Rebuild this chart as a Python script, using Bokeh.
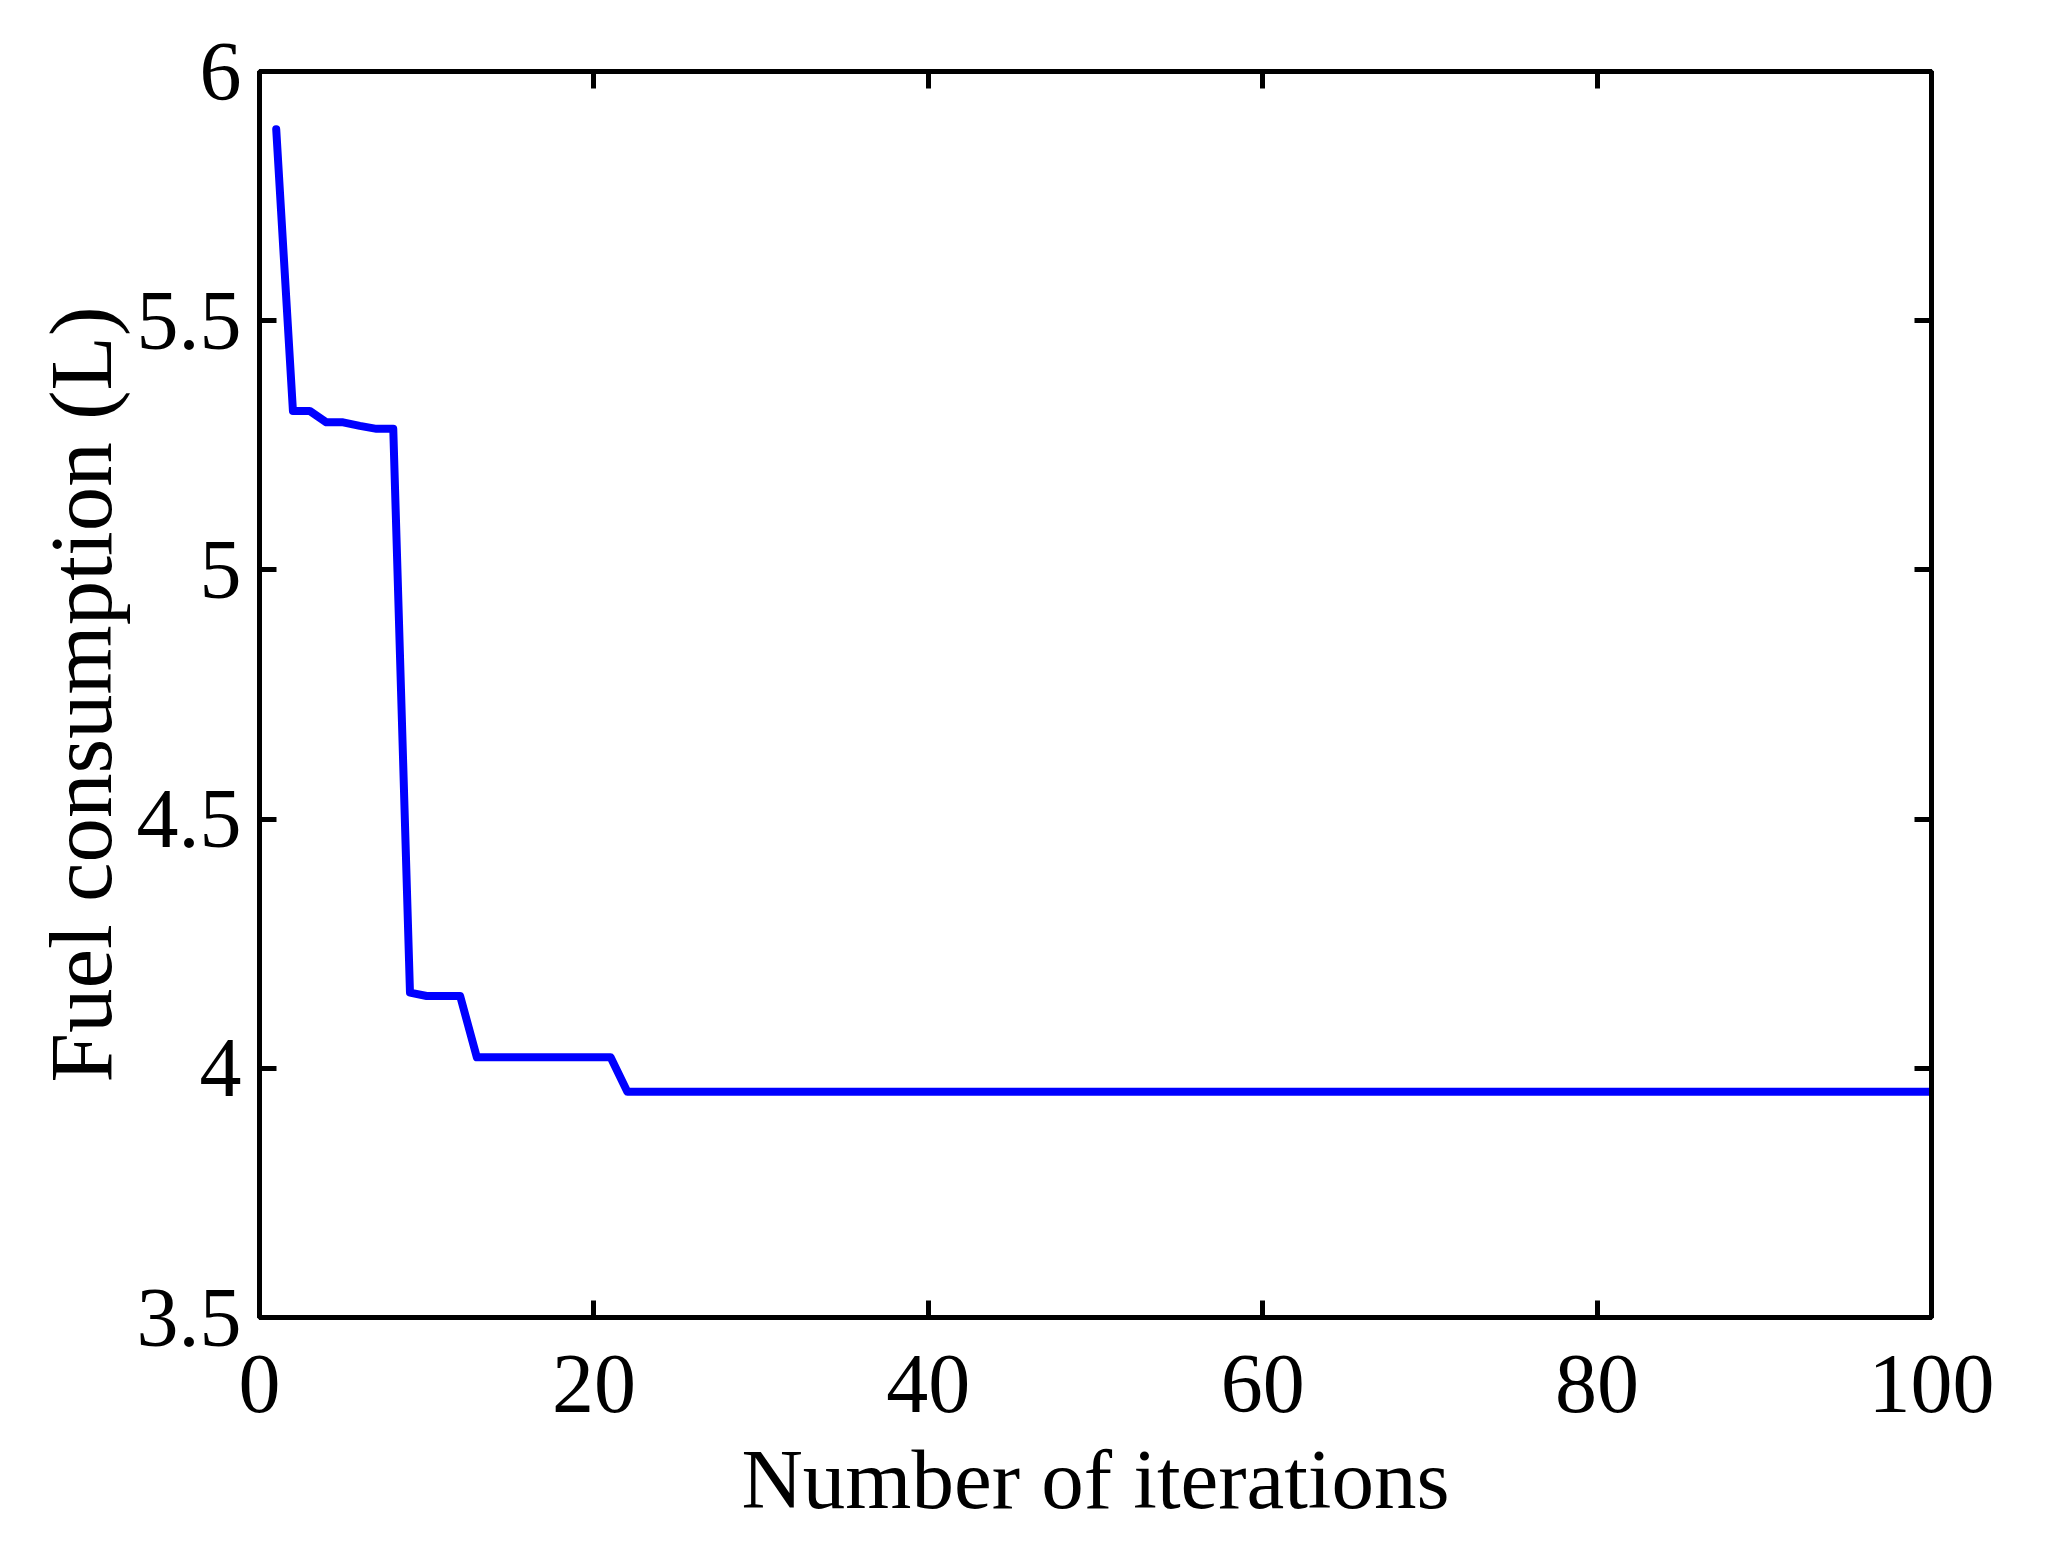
from bokeh.plotting import figure
from bokeh.models import LinearAxis, FixedTicker, Range1d, CustomJSTickFormatter
from bokeh.embed import file_html
from bokeh.resources import INLINE

# Data (breakpoints of the convergence curve)
iterations = [1, 2, 3, 4, 5, 6, 7, 8, 9, 10, 12, 13, 21, 22, 100]
fuel = [5.884, 5.319, 5.319, 5.296, 5.296, 5.289, 5.283, 5.283,
        4.152, 4.145, 4.145, 4.022, 4.022, 3.953, 3.953]

x_ticks = [0, 20, 40, 60, 80, 100]
y_ticks = [3.5, 4, 4.5, 5, 5.5, 6]
y_tick_labels = ["3.5", "4", "4.5", "5", "5.5", "6"]
x_tick_labels = ["0", "20", "40", "60", "80", "100"]

FONT = "Liberation Serif"

p = figure(
    frame_width=1672, frame_height=1246,
    x_range=Range1d(0, 100), y_range=Range1d(3.5, 6),
    output_backend="svg", toolbar_location=None,
    min_border_left=259, min_border_right=100,
    min_border_top=71, min_border_bottom=215,
    x_axis_label="Number of iterations",
    y_axis_label="Fuel consumption (L)",
)
p.background_fill_color = "white"
p.border_fill_color = "white"
p.xgrid.visible = False
p.ygrid.visible = False
p.outline_line_color = "black"
p.outline_line_width = 5

p.line(iterations, fuel, line_color="#0000FF", line_width=8,
       line_cap="round", line_join="round")

def style_axis(ax, ticks, labels=None, show_labels=True):
    ax.ticker = FixedTicker(ticks=ticks)
    ax.axis_line_color = "black"
    ax.axis_line_width = 5
    ax.major_tick_line_color = "black"
    ax.major_tick_line_width = 5
    ax.major_tick_in = 17
    ax.major_tick_out = 0
    ax.minor_tick_line_color = None
    if show_labels:
        ax.major_label_overrides = {t: l for t, l in zip(ticks, labels)}
        ax.major_label_text_font = FONT
        ax.major_label_text_font_size = "84px"
        ax.major_label_text_color = "black"
        ax.axis_label_text_font = FONT
        ax.axis_label_text_font_style = "normal"
        ax.axis_label_text_color = "black"
    else:
        ax.formatter = CustomJSTickFormatter(code="return '';")
        ax.major_label_standoff = 0
        ax.axis_label = None

xa = p.xaxis[0]
style_axis(xa, x_ticks, x_tick_labels)
xa.major_label_standoff = 38
xa.axis_label_standoff = 17
xa.axis_label_text_font_size = "85px"

ya = p.yaxis[0]
style_axis(ya, y_ticks, y_tick_labels)
ya.major_label_standoff = 18
ya.axis_label_standoff = 4
ya.axis_label_text_font_size = "89px"

top = LinearAxis()
style_axis(top, x_ticks, show_labels=False)
p.add_layout(top, "above")

right = LinearAxis()
style_axis(right, y_ticks, show_labels=False)
p.add_layout(right, "right")

open("out.html", "w").write(file_html(p, INLINE))
